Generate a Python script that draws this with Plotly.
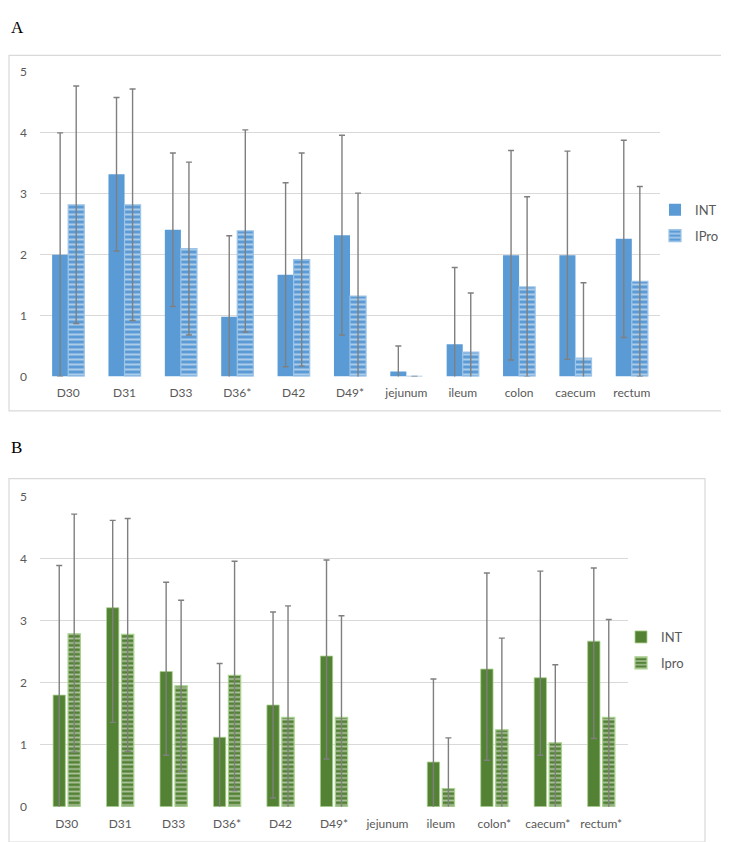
import plotly.graph_objects as go

W, H = 729, 842

# ---------------- data ----------------
cats_A = ["D30", "D31", "D33", "D36*", "D42", "D49*", "jejunum", "ileum", "colon", "caecum", "rectum"]
int_A = [2.00, 3.32, 2.41, 0.98, 1.67, 2.32, 0.08, 0.53, 1.99, 1.99, 2.26]
int_A_err = [2.00, 1.26, 1.26, 1.33, 1.51, 1.64, 0.42, 1.26, 1.72, 1.71, 1.62]
ipro_A = [2.82, 2.82, 2.10, 2.39, 1.92, 1.32, 0.00, 0.40, 1.47, 0.30, 1.56]
ipro_A_err = [1.95, 1.90, 1.42, 1.66, 1.75, 1.69, 0.00, 0.97, 1.48, 1.24, 1.56]

cats_B = ["D30", "D31", "D33", "D36*", "D42", "D49*", "jejunum", "ileum", "colon*", "caecum*", "rectum*"]
int_B = [1.80, 3.21, 2.18, 1.12, 1.64, 2.43, None, 0.72, 2.22, 2.08, 2.67]
int_B_plus = [2.09, 1.41, 1.44, 1.19, 1.50, 1.55, None, 1.34, 1.55, 1.72, 1.18]
int_B_minus = [2.09, 1.85, 1.35, 1.19, 1.50, 1.66, None, 1.34, 1.47, 1.25, 1.57]
ipro_B = [2.79, 2.78, 1.95, 2.12, 1.44, 1.44, None, 0.29, 1.24, 1.03, 1.44]
ipro_B_plus = [1.93, 1.87, 1.38, 1.84, 1.80, 1.64, None, 0.82, 1.48, 1.26, 1.58]
ipro_B_minus = [1.91, 1.89, 1.38, 1.86, 1.80, 1.64, None, 0.82, 1.48, 1.26, 1.58]

y_ticks = [0, 1, 2, 3, 4, 5]

# ---------------- styles ----------------
BLUE = "#5B9BD5"
BLUE_LIGHT = "#9DC3E6"
GREEN = "#548235"
GREEN_LIGHT = "#A9D18E"
ERR = "#7F7F7F"
TXT = "#595959"
GRID = "#D9D9D9"
FONT = "Lato"


def px_x(p):
    return p / W


def px_y(p):
    return 1 - p / H


err_style = dict(color=ERR, thickness=1.4, width=3)

fig = go.Figure()

# Panel A
fig.add_trace(go.Bar(
    x=cats_A, y=int_A, name="INT", xaxis="x", yaxis="y",
    marker=dict(color=BLUE, line=dict(width=0)),
    error_y=dict(type="data", array=int_A_err, **err_style),
    legend="legend", legendgroup="a1",
))
fig.add_trace(go.Bar(
    x=cats_A, y=ipro_A, name="IPro", xaxis="x", yaxis="y",
    marker=dict(color=BLUE, line=dict(color=BLUE_LIGHT, width=1.2),
                pattern=dict(shape="-", bgcolor=BLUE, fgcolor="white", size=5, solidity=0.4)),
    error_y=dict(type="data", array=ipro_A_err, **err_style),
    legend="legend", legendgroup="a2",
))

# Panel B
fig.add_trace(go.Bar(
    x=cats_B, y=int_B, name="INT", xaxis="x2", yaxis="y2",
    width=0.23, offset=-0.255,
    marker=dict(color=GREEN, line=dict(color=GREEN_LIGHT, width=0.8)),
    error_y=dict(type="data", symmetric=False, array=int_B_plus, arrayminus=int_B_minus, **err_style),
    legend="legend2", legendgroup="b1",
))
fig.add_trace(go.Bar(
    x=cats_B, y=ipro_B, name="Ipro", xaxis="x2", yaxis="y2",
    width=0.23, offset=0.025,
    marker=dict(color=GREEN, line=dict(color=GREEN_LIGHT, width=1.2),
                pattern=dict(shape="-", bgcolor=GREEN, fgcolor="white", size=4.5, solidity=0.4)),
    error_y=dict(type="data", symmetric=False, array=ipro_B_plus, arrayminus=ipro_B_minus, **err_style),
    legend="legend2", legendgroup="b2",
))

axis_common_x = dict(
    showgrid=False, zeroline=False, showline=False, ticks="",
    tickfont=dict(family=FONT, size=12, color=TXT), ticklabelstandoff=8,
)
axis_common_y = dict(
    range=[0, 5], tickvals=y_ticks, showgrid=True, gridcolor=GRID, gridwidth=1.3,
    zeroline=False, showline=False, ticks="",
    tickfont=dict(family=FONT, size=12, color=TXT), ticklabelstandoff=12,
)

fig.update_layout(
    width=W, height=H,
    margin=dict(l=0, r=0, t=0, b=0),
    paper_bgcolor="white", plot_bgcolor="white",
    barmode="group", bargap=0.43, bargroupgap=0.0,
    xaxis=dict(domain=[px_x(32), px_x(652)], anchor="y", **axis_common_x),
    yaxis=dict(domain=[px_y(367), px_y(57)], anchor="x", **axis_common_y),
    xaxis2=dict(domain=[px_x(32), px_x(620)], anchor="y2", **axis_common_x),
    yaxis2=dict(domain=[px_y(805), px_y(489.5)], anchor="x2", **axis_common_y),
    legend=dict(x=px_x(647), y=px_y(182), xanchor="left", yanchor="top",
                font=dict(family=FONT, size=13, color=TXT), itemwidth=30,
                traceorder="grouped", tracegroupgap=6, bgcolor="rgba(0,0,0,0)"),
    legend2=dict(x=px_x(613), y=px_y(617), xanchor="left", yanchor="top",
                 font=dict(family=FONT, size=13, color=TXT), itemwidth=30,
                 traceorder="grouped", tracegroupgap=6, bgcolor="rgba(0,0,0,0)"),
    shapes=[
        dict(type="rect", xref="paper", yref="paper",
             x0=px_x(1), x1=px_x(727), y0=px_y(402), y1=px_y(40),
             line=dict(color=GRID, width=1.2), fillcolor="rgba(0,0,0,0)", layer="below"),
        dict(type="rect", xref="paper", yref="paper",
             x0=px_x(1), x1=px_x(697), y0=px_y(841), y1=px_y(471),
             line=dict(color=GRID, width=1.2), fillcolor="rgba(0,0,0,0)", layer="below"),
    ],
    annotations=[
        dict(text="A", x=px_x(1), y=px_y(0), xref="paper", yref="paper",
             xanchor="left", yanchor="top", showarrow=False,
             font=dict(family="Liberation Serif", size=17, color="black")),
        dict(text="B", x=px_x(1), y=px_y(428), xref="paper", yref="paper",
             xanchor="left", yanchor="top", showarrow=False,
             font=dict(family="Liberation Serif", size=17, color="black")),
    ],
)

fig.write_html("out.html")
